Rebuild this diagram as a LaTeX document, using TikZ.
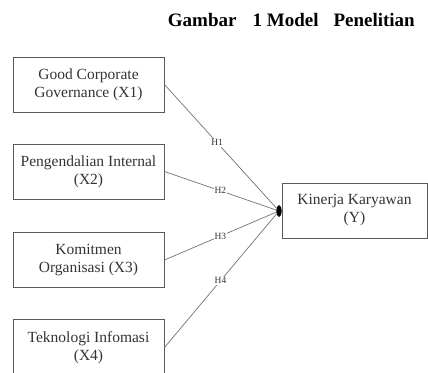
\documentclass[tikz,border=0pt]{standalone}
\usepackage{fontspec}
\setmainfont{Liberation Serif}
\usetikzlibrary{shapes.geometric}
\tikzset{
  box/.style={draw=black!65, line width=0.9pt, minimum width=151pt, minimum height=55pt, inner sep=0pt, align=center, text=black!80, font=\fontsize{15.5}{18}\selectfont},
  conn/.style={draw=black!55, line width=0.7pt},
  lab/.style={fill=white, inner sep=1pt, text=black!80, font=\fontsize{9.5}{11}\selectfont},
  junction/.style={ellipse, fill=black, draw=black, minimum width=5pt, minimum height=11pt, inner sep=0pt}
}
\begin{document}
\begin{tikzpicture}[x=1pt,y=-1pt]
\useasboundingbox (0,0) rectangle (428,372);
\clip (0,0) rectangle (428,372);
\node[anchor=base east, inner sep=0pt, font=\bfseries\fontsize{19}{22}\selectfont] (title) at (415,27) {Gambar\hspace{16pt}1 Model\hspace{15pt}Penelitian};
\node[box] (x1) at (88.5,84.5) {Good Corporate\\Governance (X1)};
\node[box] (x2) at (88.5,171.5) {Pengendalian Internal\\(X2)};
\node[box] (x3) at (88.5,260) {Komitmen\\Organisasi (X3)};
\node[box, minimum height=57pt] (x4) at (88.5,347.5) {Teknologi Infomasi\\(X4)};
\node[box, minimum width=145pt] (y) at (354.5,210.5) {Kinerja Karyawan\\(Y)};
\node[junction] (d) at (279,211) {};
\draw[conn] (x1.east) -- node[lab, pos=0.47] {H1} (d);
\draw[conn] (x2.east) -- node[lab, pos=0.5] {H2} (d);
\draw[conn] (x3.east) -- node[lab, pos=0.5] {H3} (d);
\draw[conn] (x4.east) -- node[lab, pos=0.5] {H4} (d);
\end{tikzpicture}
\end{document}
